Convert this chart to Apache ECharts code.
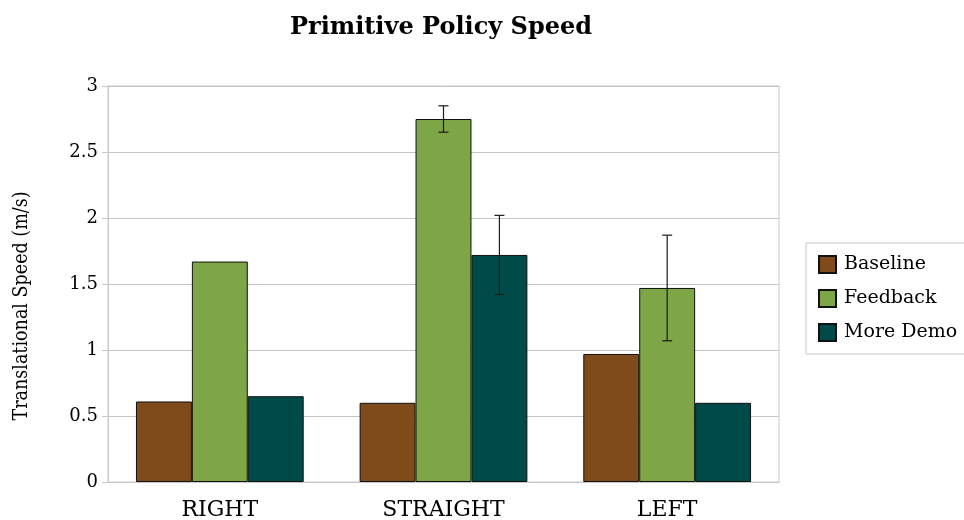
<!DOCTYPE html>
<html>
<head>
<meta charset="utf-8">
<script src="https://cdn.jsdelivr.net/npm/echarts@6/dist/echarts.min.js"></script>
<style>
  html, body { margin: 0; padding: 0; background: #fff; }
  #chart { width: 964px; height: 520px; }
</style>
</head>
<body>
<div id="chart"></div>
<script>
// Mean translational speed per primitive, with standard-error bars
const categories = ['RIGHT', 'STRAIGHT', 'LEFT'];
const seriesNames = ['Baseline', 'Feedback', 'More Demo'];
const baseline = [0.61, 0.60, 0.97];
const feedback = [1.67, 2.75, 1.47];
const moreDemo = [0.65, 1.72, 0.60];
const feedbackErr = [null, 0.10, 0.40];
const moreDemoErr = [null, 0.30, null];
const yTicks = [0, 0.5, 1, 1.5, 2, 2.5, 3];

const colors = ['#7f4b1b', '#7ea646', '#004a4a'];
const values = [baseline, feedback, moreDemo];
const errors = [null, feedbackErr, moreDemoErr];
const SERIF = '"DejaVu Serif", "Liberation Serif", serif';
const SERIF_NARROW = '"DejaVu Serif Condensed", "DejaVu Serif", "Liberation Serif", serif';
const CAT_GAP = 0.25;

// One custom series per bar group draws the whiskers over the matching bar
function errorSeries(seriesIdx) {
  const vals = values[seriesIdx];
  const errs = errors[seriesIdx];
  const data = [];
  categories.forEach((c, i) => {
    if (errs[i] != null) data.push([i, vals[i], vals[i] - errs[i], vals[i] + errs[i]]);
  });
  return {
    type: 'custom',
    name: seriesNames[seriesIdx] + ' error',
    z: 10,
    silent: true,
    data: data,
    renderItem: function (params, api) {
      const cat = api.value(0);
      const lo = api.coord([cat, api.value(2)]);
      const hi = api.coord([cat, api.value(3)]);
      const band = api.size([1, 0])[0];
      const barW = band * (1 - CAT_GAP) / seriesNames.length;
      const x = lo[0] + (seriesIdx - (seriesNames.length - 1) / 2) * barW;
      const cap = 5;
      const style = { stroke: '#1a1a1a', lineWidth: 1.2, fill: null };
      return {
        type: 'group',
        children: [
          { type: 'line', shape: { x1: x, y1: lo[1], x2: x, y2: hi[1] }, style: style },
          { type: 'line', shape: { x1: x - cap, y1: lo[1], x2: x + cap, y2: lo[1] }, style: style },
          { type: 'line', shape: { x1: x - cap, y1: hi[1], x2: x + cap, y2: hi[1] }, style: style }
        ]
      };
    }
  };
}

const barSeries = seriesNames.map((name, k) => ({
  type: 'bar',
  name: name,
  data: values[k],
  barGap: '0%',
  barCategoryGap: (CAT_GAP * 100) + '%',
  itemStyle: { color: colors[k], borderColor: '#111', borderWidth: 1 }
}));

const chart = echarts.init(document.getElementById('chart'));
chart.setOption({
  animation: false,
  backgroundColor: '#fff',
  title: {
    text: 'Primitive Policy Speed',
    left: 436,
    textAlign: 'center',
    top: 11,
    textStyle: { fontFamily: SERIF, fontSize: 24, fontWeight: 'bold', color: '#000' }
  },
  grid: {
    left: 108, right: 185, top: 86, bottom: 38,
    outerBoundsMode: 'none',
    containLabel: false,
    show: true, borderColor: '#c8c8c8', borderWidth: 1
  },
  legend: {
    data: seriesNames,
    orient: 'vertical',
    left: 806,
    top: 243,
    padding: [12, 12, 12, 12],
    itemWidth: 17,
    itemHeight: 17,
    itemGap: 15,
    borderColor: '#c8c8c8',
    borderWidth: 1,
    icon: 'rect',
    textStyle: { fontFamily: SERIF, fontSize: 19, color: '#000', padding: [0, 0, 0, 3] }
  },
  xAxis: {
    type: 'category',
    data: categories,
    axisLine: { show: true, lineStyle: { color: '#c8c8c8' } },
    axisTick: { show: false },
    axisLabel: { fontFamily: SERIF, fontSize: 22, color: '#000', margin: 17 }
  },
  yAxis: {
    type: 'value',
    min: 0,
    max: 3,
    interval: 0.5,
    name: 'Translational Speed (m/s)',
    nameLocation: 'middle',
    nameGap: 76,
    nameTextStyle: { fontFamily: SERIF_NARROW, fontSize: 19.5, color: '#000', padding: [0, 44, 0, 0] },
    axisLine: { show: true, lineStyle: { color: '#c8c8c8' } },
    axisTick: { show: true, length: 6, lineStyle: { color: '#c8c8c8' } },
    splitLine: { show: true, lineStyle: { color: '#c4c4c4', width: 1 } },
    axisLabel: {
      fontFamily: SERIF, fontSize: 18, color: '#000', margin: 10,
      formatter: v => (yTicks.includes(v) ? String(v) : '')
    }
  },
  series: barSeries.concat([errorSeries(1), errorSeries(2)])
});
</script>
</body>
</html>
